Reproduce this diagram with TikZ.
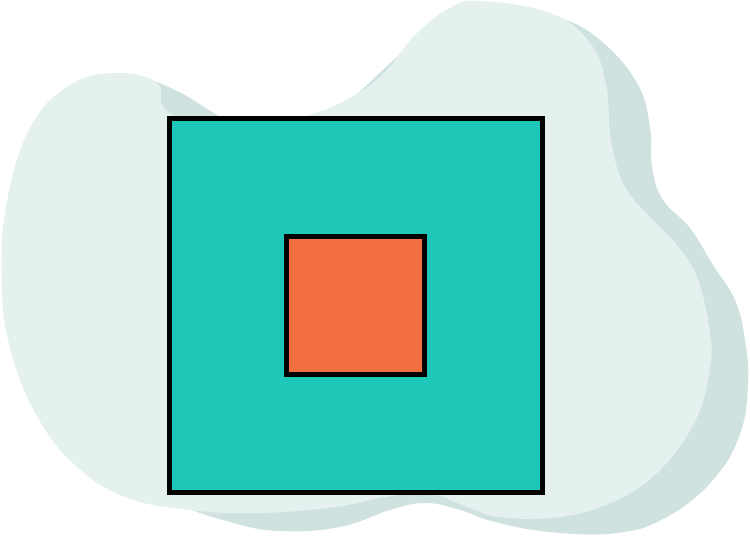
\documentclass[tikz,border=0pt]{standalone}
\definecolor{blobfront}{RGB}{229,241,239}
\definecolor{blobback}{RGB}{208,226,223}
\definecolor{tealsq}{RGB}{30,200,184}
\definecolor{orangesq}{RGB}{242,111,64}
\begin{document}
\begin{tikzpicture}[x=0.02cm,y=-0.02cm]
            \useasboundingbox (0,0) rectangle (750,537);
            \fill[blobback] plot[smooth cycle,tension=0.7] coordinates {(140,80) (175,90) (217,115) (260,140) (330,115) (420,40) (500,8) (557,17) (600,40) (637,83) (650,127) (652,167) (663,200) (690,228) (713,265) (735,300) (745,340) (748,384) (740,434) (713,480) (667,517) (617,533) (550,532) (495,522) (460,510) (425,503) (390,510) (340,527) (280,531) (230,522) (170,500) (80,450) (30,350) (20,250) (40,140) (90,90)};
            \fill[blobfront] plot[smooth cycle,tension=0.7] coordinates {(117,73) (157,83) (168,112) (230,135) (300,118) (350,98) (385,72) (415,35) (450,8) (480,1) (550,13) (590,43) (606,85) (611,140) (624,185) (650,217) (677,245) (698,280) (710,334) (710,367) (697,417) (663,467) (617,500) (560,517) (500,517) (465,506) (430,494) (385,497) (335,507) (260,513) (190,510) (125,497) (75,465) (38,418) (12,355) (2,290) (6,207) (30,128) (70,85)};
            \node[draw=black,line width=0.1cm,fill=tealsq,minimum width=7.46cm,minimum height=7.48cm,inner sep=0pt] (outer) at (356,305.5) {};
            \node[draw=black,line width=0.1cm,fill=orangesq,minimum width=2.76cm,minimum height=2.76cm,inner sep=0pt] (inner) at (355.5,305.5) {};
            \end{tikzpicture}
\end{document}
